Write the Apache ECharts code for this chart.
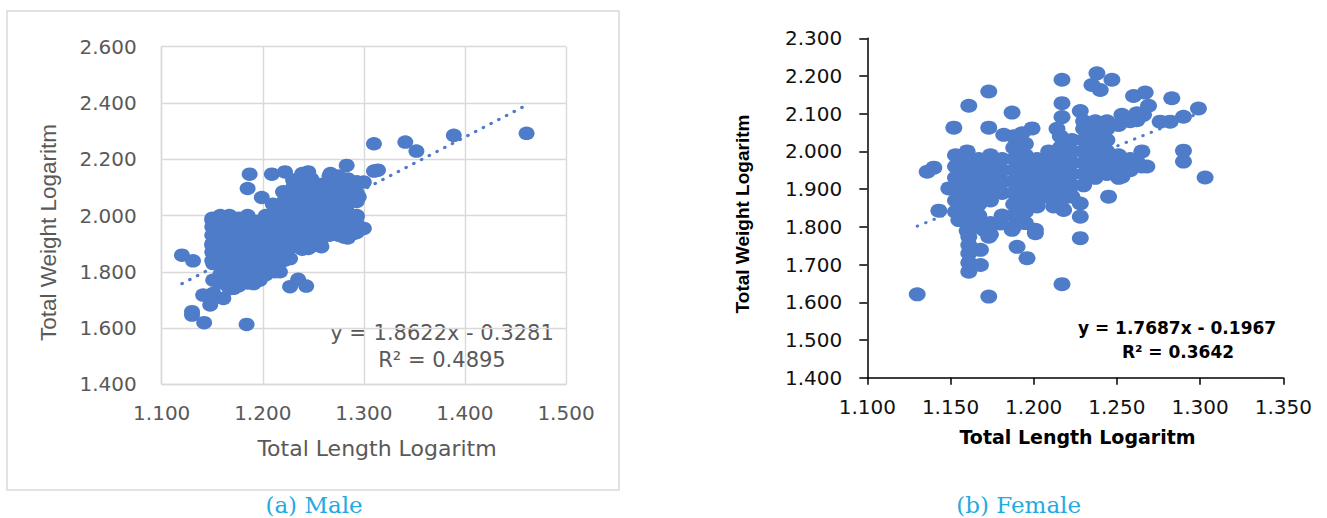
<!DOCTYPE html>
<html>
<head>
<meta charset="utf-8">
<script src="https://cdn.jsdelivr.net/npm/echarts@6/dist/echarts.min.js"></script>
<style>
html,body{margin:0;padding:0;background:#fff;}
#chart{width:1327px;height:518px;}
</style>
</head>
<body>
<div id="chart"></div>
<script>
// ---------- DATA ----------
// Male: [log total length, log total weight]
const malePoints = [
  [1.461,2.292],[1.389,2.285],[1.341,2.261],[1.352,2.229],[1.310,2.255],[1.310,2.158],[1.314,2.161],
  [1.283,2.178],[1.300,2.119],[1.300,1.954],[1.290,1.936],[1.280,1.924],[1.293,1.995],[1.245,1.883],
  [1.258,1.889],[1.227,1.747],[1.235,1.773],[1.243,1.749],[1.184,1.613],[1.142,1.619],[1.130,1.646],
  [1.130,1.658],[1.120,1.859],[1.131,1.839],[1.187,2.147],[1.185,2.096],[1.209,2.147],[1.222,2.155],
  [1.199,2.064],[1.210,2.040],[1.220,2.084],[1.245,2.155],[1.267,2.149],[1.141,1.717],[1.151,1.723],
  [1.161,1.705],[1.148,1.682],[1.150,1.983],[1.217,1.800],[1.227,1.847],[1.197,1.770],[1.191,1.758],
  [1.171,1.741],[1.151,1.770],[1.151,1.829],[1.150,1.894],[1.230,2.126],[1.239,2.149],[1.295,2.066],
  [1.150,1.84],[1.150,1.87],[1.150,1.90],[1.150,1.93],[1.150,1.96],[1.150,1.99],
  [1.158,1.76],[1.158,1.79],[1.158,1.82],[1.158,1.85],[1.158,1.88],[1.158,1.91],[1.158,1.94],[1.158,1.97],[1.158,2.00],
  [1.167,1.74],[1.167,1.77],[1.167,1.80],[1.167,1.83],[1.167,1.86],[1.167,1.89],[1.167,1.92],[1.167,1.95],[1.167,1.98],[1.167,2.00],
  [1.176,1.75],[1.176,1.78],[1.176,1.81],[1.176,1.84],[1.176,1.87],[1.176,1.90],[1.176,1.93],[1.176,1.96],[1.176,1.99],
  [1.185,1.76],[1.185,1.79],[1.185,1.82],[1.185,1.85],[1.185,1.88],[1.185,1.91],[1.185,1.94],[1.185,1.97],[1.185,2.00],
  [1.194,1.77],[1.194,1.80],[1.194,1.83],[1.194,1.86],[1.194,1.89],[1.194,1.92],[1.194,1.95],[1.194,1.98],
  [1.203,1.79],[1.203,1.82],[1.203,1.85],[1.203,1.88],[1.203,1.91],[1.203,1.94],[1.203,1.97],[1.203,2.00],
  [1.212,1.80],[1.212,1.83],[1.212,1.86],[1.212,1.89],[1.212,1.92],[1.212,1.95],[1.212,1.98],[1.212,2.01],[1.212,2.03],
  [1.221,1.84],[1.221,1.87],[1.221,1.90],[1.221,1.93],[1.221,1.96],[1.221,1.99],[1.221,2.02],[1.221,2.05],
  [1.230,1.89],[1.230,1.92],[1.230,1.95],[1.230,1.98],[1.230,2.01],[1.230,2.04],[1.230,2.07],[1.230,2.10],
  [1.239,1.88],[1.239,1.91],[1.239,1.94],[1.239,1.97],[1.239,2.00],[1.239,2.03],[1.239,2.06],[1.239,2.09],[1.239,2.12],
  [1.248,1.89],[1.248,1.92],[1.248,1.95],[1.248,1.98],[1.248,2.01],[1.248,2.04],[1.248,2.07],[1.248,2.10],[1.248,2.13],
  [1.257,1.90],[1.257,1.93],[1.257,1.96],[1.257,1.99],[1.257,2.02],[1.257,2.05],[1.257,2.08],[1.257,2.11],
  [1.266,1.93],[1.266,1.96],[1.266,1.99],[1.266,2.02],[1.266,2.05],[1.266,2.08],[1.266,2.11],[1.266,2.14],
  [1.275,1.93],[1.275,1.96],[1.275,1.99],[1.275,2.02],[1.275,2.05],[1.275,2.08],[1.275,2.11],[1.275,2.14],
  [1.284,1.92],[1.284,1.95],[1.284,1.98],[1.284,2.01],[1.284,2.04],[1.284,2.07],[1.284,2.10],[1.284,2.13],
  [1.293,1.94],[1.293,1.97],[1.293,2.00],[1.293,2.05],[1.293,2.08],[1.293,2.12]
];
// Female: [log total length, log total weight]
const femalePoints = [
  [1.130,1.621],[1.173,1.615],[1.217,1.648],[1.228,1.770],[1.245,1.880],[1.303,1.931],[1.290,1.973],
  [1.290,2.002],[1.299,2.114],[1.283,2.141],[1.290,2.092],[1.282,2.079],[1.276,2.079],[1.260,2.147],
  [1.267,2.156],[1.269,2.121],[1.266,2.097],[1.262,2.083],[1.253,2.097],[1.238,2.207],[1.247,2.190],
  [1.235,2.176],[1.240,2.163],[1.217,2.190],[1.217,2.128],[1.217,2.091],[1.228,2.107],[1.173,2.159],
  [1.161,2.121],[1.152,2.063],[1.173,2.063],[1.187,2.103],[1.182,2.044],[1.199,2.061],[1.193,2.048],
  [1.136,1.946],[1.140,1.957],[1.143,1.843],[1.149,1.902],[1.155,1.818],[1.161,1.681],[1.161,1.705],
  [1.168,1.699],[1.161,1.730],[1.168,1.739],[1.161,1.752],[1.161,1.774],[1.173,1.774],[1.170,1.792],
  [1.190,1.747],[1.196,1.717],[1.201,1.792],[1.201,1.783],[1.187,1.792],[1.180,1.809],[1.228,1.827],
  [1.228,1.862],[1.218,1.845],[1.212,1.854],[1.202,1.854],[1.209,1.880],[1.253,1.933],[1.265,1.960],
  [1.265,2.000],[1.268,1.960],[1.262,1.973],[1.243,1.942],[1.250,1.986],[1.262,2.101],[1.214,2.060],
  [1.153,1.84],[1.153,1.87],[1.153,1.90],[1.153,1.93],[1.153,1.96],[1.153,1.99],
  [1.160,1.79],[1.160,1.82],[1.160,1.85],[1.160,1.88],[1.160,1.91],[1.160,1.94],[1.160,1.97],[1.160,2.00],
  [1.167,1.80],[1.167,1.83],[1.167,1.86],[1.167,1.89],[1.167,1.92],[1.167,1.95],[1.167,1.98],
  [1.174,1.78],[1.174,1.81],[1.174,1.87],[1.174,1.90],[1.174,1.93],[1.174,1.96],[1.174,1.99],
  [1.181,1.83],[1.181,1.89],[1.181,1.92],[1.181,1.95],[1.181,1.98],
  [1.188,1.80],[1.188,1.83],[1.188,1.86],[1.188,1.89],[1.188,1.92],[1.188,1.95],[1.188,1.98],[1.188,2.01],[1.188,2.04],
  [1.195,1.81],[1.195,1.84],[1.195,1.87],[1.195,1.90],[1.195,1.93],[1.195,1.96],[1.195,1.99],[1.195,2.02],
  [1.202,1.86],[1.202,1.89],[1.202,1.92],[1.202,1.95],[1.202,1.98],
  [1.209,1.88],[1.209,1.91],[1.209,1.94],[1.209,1.97],[1.209,2.00],
  [1.216,1.86],[1.216,1.89],[1.216,1.92],[1.216,1.95],[1.216,1.98],[1.216,2.01],[1.216,2.04],
  [1.223,1.88],[1.223,1.91],[1.223,1.94],[1.223,1.97],[1.223,2.00],[1.223,2.03],
  [1.230,1.91],[1.230,1.94],[1.230,1.97],[1.230,2.00],[1.230,2.03],[1.230,2.06],[1.230,2.08],
  [1.237,1.93],[1.237,1.96],[1.237,1.99],[1.237,2.02],[1.237,2.05],[1.237,2.08],
  [1.244,1.94],[1.244,1.97],[1.244,2.00],[1.244,2.03],[1.244,2.06],[1.244,2.08],
  [1.251,1.93],[1.251,1.96],[1.251,1.99],[1.251,2.07],
  [1.258,1.95],[1.258,1.98],[1.258,2.08]
];
// Linear trend line end points (from the fitted equations shown on the chart)
const maleTrend = [[1.120,1.7576],[1.461,2.3926]];
const femaleTrend = [[1.130,1.8019],[1.303,2.1079]];
// Axis settings
const maleXTicks = {min:1.1, max:1.5, interval:0.1};
const maleYTicks = {min:1.4, max:2.6, interval:0.2};
const femaleXTicks = {min:1.1, max:1.35, interval:0.05};
const femaleYTicks = {min:1.4, max:2.3, interval:0.1};
// Texts
const axisTitleX = "Total Length Logaritm";
const axisTitleY = "Total Weight Logaritm";
const maleEquation = ["y = 1.8622x - 0.3281", "R\u00B2 = 0.4895"];
const femaleEquation = ["y = 1.7687x - 0.1967", "R\u00B2 = 0.3642"];
const captions = ["(a) Male", "(b) Female"];

// ---------- CHART ----------
const BLUE = '#4e7cc9';
const GRID = '#d9d9d9';
const fmt = v => v.toFixed(3);
const chart = echarts.init(document.getElementById('chart'), null, {renderer:'svg'});

const leftAxisCommon = {
  type:'value', gridIndex:0,
  axisLine:{show:true, lineStyle:{color:GRID, width:1.4}},
  axisTick:{show:false},
  splitLine:{show:true, lineStyle:{color:GRID, width:1.4}},
  axisLabel:{fontFamily:'DejaVu Sans', fontSize:20, color:'#595959', formatter:fmt}
};
const rightAxisCommon = {
  type:'value', gridIndex:1,
  axisLine:{show:true, onZero:false, lineStyle:{color:'#000', width:1.5}},
  axisTick:{show:true, inside:false, lineStyle:{color:'#000', width:1.5}},
  splitLine:{show:false},
  axisLabel:{fontFamily:'DejaVu Sans', fontSize:20, color:'#111', formatter:fmt}
};
function markerStyle() {
  return {color:BLUE, opacity:1, borderWidth:0, borderColor:'transparent', shadowBlur:0, shadowColor:'transparent'};
}

const option = {
  animation:false,
  backgroundColor:'#fff',
  color:[BLUE],
  grid:[
    {left:161.7, top:46.7, width:404.3, height:337.6},
    {left:867.3, top:38.3, width:416, height:339.4}
  ],
  xAxis:[
    Object.assign({}, leftAxisCommon, maleXTicks, {axisLabel:Object.assign({}, leftAxisCommon.axisLabel, {margin:19})}),
    Object.assign({}, rightAxisCommon, femaleXTicks, {axisTick:Object.assign({}, rightAxisCommon.axisTick, {length:7}),
      axisLabel:Object.assign({}, rightAxisCommon.axisLabel, {margin:19})})
  ],
  yAxis:[
    Object.assign({}, leftAxisCommon, maleYTicks, {axisLabel:Object.assign({}, leftAxisCommon.axisLabel, {margin:25})}),
    Object.assign({}, rightAxisCommon, femaleYTicks, {axisTick:Object.assign({}, rightAxisCommon.axisTick, {length:8}),
      axisLabel:Object.assign({}, rightAxisCommon.axisLabel, {margin:25})})
  ],
  series:[
    {type:'line', xAxisIndex:0, yAxisIndex:0, data:maleTrend, symbol:'none', silent:true, z:1,
     lineStyle:{color:BLUE, width:3.2, type:[0.5,8.2], cap:'round'}},
    {type:'scatter', xAxisIndex:0, yAxisIndex:0, data:malePoints, symbol:'circle', symbolSize:[16,13.5], z:2,
     color:BLUE, itemStyle:markerStyle(), emphasis:{disabled:true}, silent:true},
    {type:'line', xAxisIndex:1, yAxisIndex:1, data:femaleTrend, symbol:'none', silent:true, z:1,
     lineStyle:{color:BLUE, width:3, type:[0.5,8.5], cap:'round'}},
    {type:'scatter', xAxisIndex:1, yAxisIndex:1, data:femalePoints, symbol:'circle', symbolSize:[17,14], z:2,
     color:BLUE, itemStyle:markerStyle(), emphasis:{disabled:true}, silent:true}
  ],
  graphic:[
    {type:'rect', shape:{x:7, y:11, width:612, height:479}, style:{fill:'none', stroke:GRID, lineWidth:1.5}, z:-1},
    {type:'text', x:377, y:448, style:{text:axisTitleX, fontFamily:'DejaVu Sans', fontSize:22, fill:'#595959', align:'center', verticalAlign:'middle'}},
    {type:'text', x:48, y:232.5, rotation:Math.PI/2, style:{text:axisTitleY, fontFamily:'Liberation Sans', fontSize:22.5, fill:'#595959', align:'center', verticalAlign:'middle'}},
    {type:'text', x:442, y:333, style:{text:maleEquation[0], fontFamily:'DejaVu Sans', fontSize:21, fill:'#595959', align:'center', verticalAlign:'middle'}},
    {type:'text', x:442, y:360, style:{text:maleEquation[1], fontFamily:'DejaVu Sans', fontSize:21, fill:'#595959', align:'center', verticalAlign:'middle'}},
    {type:'text', x:314, y:505, style:{text:captions[0], fontFamily:'DejaVu Serif', fontSize:23, fill:'#22aae2', align:'center', verticalAlign:'middle'}},
    {type:'text', x:1077.5, y:437, style:{text:axisTitleX, fontFamily:'DejaVu Sans', fontWeight:'bold', fontSize:19, fill:'#000', align:'center', verticalAlign:'middle'}},
    {type:'text', x:742, y:214, rotation:Math.PI/2, style:{text:axisTitleY, fontFamily:'Liberation Sans', fontWeight:'bold', fontSize:19, fill:'#000', align:'center', verticalAlign:'middle'}},
    {type:'text', x:1177, y:328, style:{text:femaleEquation[0], fontFamily:'DejaVu Sans', fontWeight:'bold', fontSize:17, fill:'#000', align:'center', verticalAlign:'middle'}},
    {type:'text', x:1178, y:352, style:{text:femaleEquation[1], fontFamily:'DejaVu Sans', fontWeight:'bold', fontSize:17, fill:'#000', align:'center', verticalAlign:'middle'}},
    {type:'text', x:1018.7, y:505, style:{text:captions[1], fontFamily:'DejaVu Serif', fontSize:23, fill:'#22aae2', align:'center', verticalAlign:'middle'}}
  ]
};
chart.setOption(option);
</script>
</body>
</html>
